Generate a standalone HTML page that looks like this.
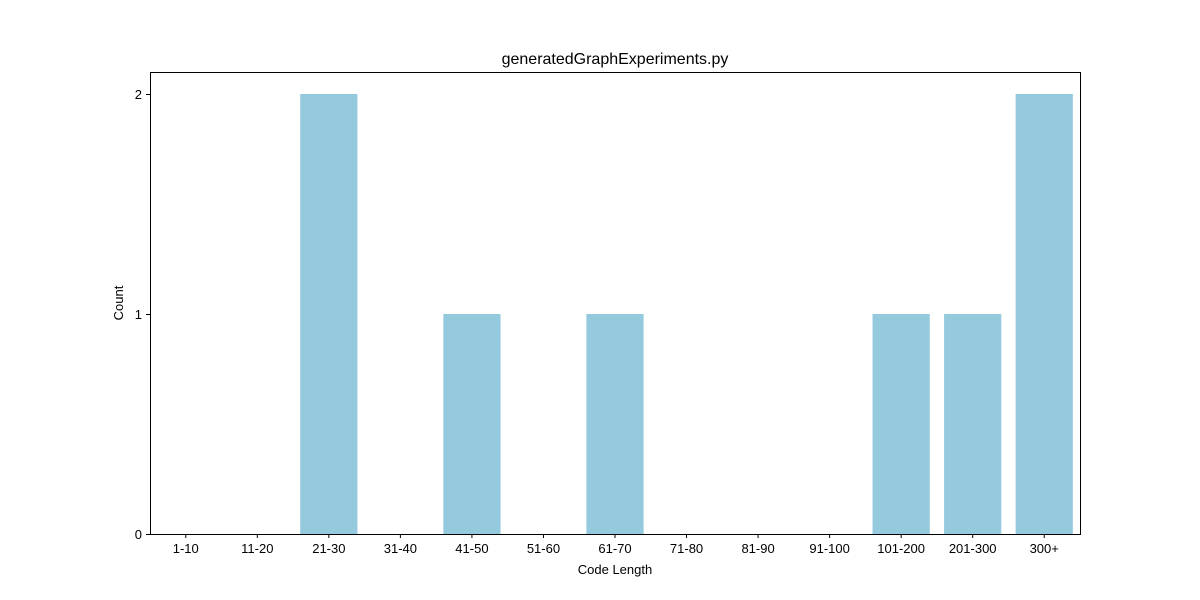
<!DOCTYPE html>
<html>
<head>
<meta charset="utf-8">
<style>
html,body{margin:0;padding:0;background:#fff;}
svg{display:block;font-family:"Liberation Sans","DejaVu Sans",sans-serif;}
</style>
</head>
<body>
<svg id="chart" width="1200" height="600" viewBox="0 0 1200 600">
<rect x="0" y="0" width="1200" height="600" fill="#fff"/>
<text x="615" y="64" text-anchor="middle" font-size="16" fill="#000">generatedGraphExperiments.py</text>
<g id="bars"></g>
<g id="xticks"></g>
<g id="yticks"></g>
<rect x="150.5" y="72.5" width="930" height="462" fill="none" stroke="#000" stroke-width="1"/>
<text x="615" y="574" text-anchor="middle" font-size="13">Code Length</text>
<text x="123" y="303" text-anchor="middle" font-size="13" transform="rotate(-90 123 303)">Count</text>
</svg>
<script>
const categories = ["1-10","11-20","21-30","31-40","41-50","51-60","61-70","71-80","81-90","91-100","101-200","201-300","300+"];
const counts = [0,0,2,0,1,0,1,0,0,0,1,1,2];
const yTicks = [0,1,2];

const NS = "http://www.w3.org/2000/svg";
const L = 150, R = 1080, T = 72, B = 534;
const yMax = 2.1;
const step = (R - L) / categories.length;
const xC = i => L + step * (i + 0.5);
const y = v => B - (v / yMax) * (B - T);

const bars = document.getElementById('bars');
const xg = document.getElementById('xticks');
const yg = document.getElementById('yticks');

categories.forEach((c, i) => {
  const w = step * 0.8;
  const r = document.createElementNS(NS, 'rect');
  r.setAttribute('x', xC(i) - w / 2);
  r.setAttribute('width', w);
  r.setAttribute('y', y(counts[i]));
  r.setAttribute('height', B - y(counts[i]));
  r.setAttribute('fill', '#95c9dd');
  
  
  bars.appendChild(r);

  const t = document.createElementNS(NS, 'line');
  t.setAttribute('x1', xC(i)); t.setAttribute('x2', xC(i));
  t.setAttribute('y1', B); t.setAttribute('y2', B + 4);
  t.setAttribute('stroke', '#000');
  
  
  xg.appendChild(t);

  const tx = document.createElementNS(NS, 'text');
  tx.setAttribute('x', xC(i)); tx.setAttribute('y', B + 19);
  tx.setAttribute('text-anchor', 'middle'); tx.setAttribute('font-size', '13');
  tx.textContent = c;
  
  
  xg.appendChild(tx);
});

yTicks.forEach(v => {
  const t = document.createElementNS(NS, 'line');
  t.setAttribute('x1', L - 4); t.setAttribute('x2', L);
  t.setAttribute('y1', y(v) + 0.5); t.setAttribute('y2', y(v) + 0.5);
  t.setAttribute('stroke', '#000');
  
  
  yg.appendChild(t);

  const tx = document.createElementNS(NS, 'text');
  tx.setAttribute('x', L - 8); tx.setAttribute('y', y(v) + 5);
  tx.setAttribute('text-anchor', 'end'); tx.setAttribute('font-size', '13');
  tx.textContent = v;
  
  
  yg.appendChild(tx);
});
</script>
</body>
</html>
